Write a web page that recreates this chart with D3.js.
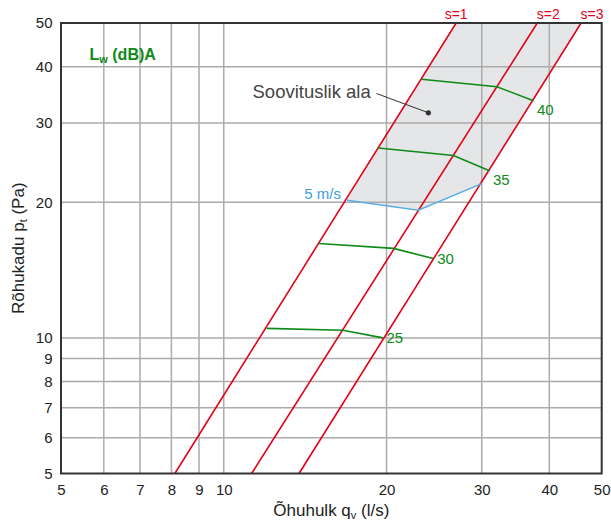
<!DOCTYPE html>
<html>
<head>
<meta charset="utf-8">
<script src="https://cdn.jsdelivr.net/npm/d3@7"></script>
<style>
  html, body { margin: 0; padding: 0; background: #fff; }
  svg { display: block; font-family: "Liberation Sans", Arial, Helvetica, sans-serif; }
</style>
</head>
<body>
<div id="chart"></div>
<script>
// ---- data ----
const xTicks = [5, 6, 7, 8, 9, 10, 20, 30, 40, 50];
const yTicks = [5, 6, 7, 8, 9, 10, 20, 30, 40, 50];

// system lines s=1..3: airflow at p=5 Pa and at p=50 Pa
const sLabels = ["s=1", "s=2", "s=3"];
const sQatP5  = [8.12, 11.26, 13.78];
const sQatP50 = [26.9, 38.0, 45.8];

// sound power lines Lw (dB)A
const lwLabels = ["25", "30", "35", "40"];
const lwQ = [
  [12.0, 16.6, 19.7],
  [15.0, 20.6, 24.4],
  [19.3, 26.6, 31.0],
  [23.2, 32.0, 37.4]
];
const lwP = [
  [10.5, 10.4, 10.0],
  [16.2, 15.8, 15.0],
  [26.4, 25.4, 23.5],
  [37.5, 36.1, 33.6]
];

// 5 m/s velocity line
const velLabel = "5 m/s";
const velQ = [16.9, 22.9, 30.0];
const velP = [20.2, 19.2, 22.0];

// recommended area label and marker
const areaLabel = "Soovituslik ala";
const areaMarkQ = 23.9;
const areaMarkP = 31.6;

// ---- layout ----
const W = 611, H = 523;
const L = 61, R = 601.7, T = 23, B = 473.5;

const x = d3.scaleLog().domain([5, 50]).range([L, R]);
const y = d3.scaleLog().domain([5, 50]).range([B, T]);

const svg = d3.select("#chart").append("svg")
  .attr("width", W).attr("height", H);

svg.append("defs").append("clipPath").attr("id", "plotclip")
  .append("rect").attr("x", L).attr("y", T).attr("width", R - L).attr("height", B - T);

const plot = svg.append("g").attr("clip-path", "url(#plotclip)");

// shaded recommended area
const areaPts = velQ.map((q, i) => [q, velP[i]])
  .concat([[sQatP50[2], 50], [sQatP50[0], 50]]);
plot.append("path")
  .attr("d", d3.line().x(d => x(d[0])).y(d => y(d[1]))(areaPts) + "Z")
  .attr("fill", "#e5e6e8");

// grid
const gridX = xTicks.filter(v => v > 5 && v < 50);
const gridY = yTicks.filter(v => v > 5 && v < 50);
plot.selectAll(".gx").data(gridX).enter().append("line")
  .attr("x1", d => x(d)).attr("x2", d => x(d)).attr("y1", T).attr("y2", B)
  .attr("stroke", "#ababab").attr("stroke-width", 1.5);
plot.selectAll(".gy").data(gridY).enter().append("line")
  .attr("y1", d => y(d)).attr("y2", d => y(d)).attr("x1", L).attr("x2", R)
  .attr("stroke", "#ababab").attr("stroke-width", 1.5);

// system lines
plot.selectAll(".sl").data(sLabels).enter().append("line")
  .attr("x1", (d, i) => x(sQatP5[i])).attr("y1", y(5))
  .attr("x2", (d, i) => x(sQatP50[i])).attr("y2", y(50))
  .attr("stroke", "#e2001a").attr("stroke-width", 1.6);

const line = d3.line().x(d => x(d[0])).y(d => y(d[1]));

// velocity line
plot.append("path")
  .attr("d", line(velQ.map((q, i) => [q, velP[i]])))
  .attr("fill", "none").attr("stroke", "#5aaee6").attr("stroke-width", 1.6);

// Lw lines
lwLabels.forEach((lab, k) => {
  plot.append("path")
    .attr("d", line(lwQ[k].map((q, i) => [q, lwP[k][i]])))
    .attr("fill", "none").attr("stroke", "#0e8a16").attr("stroke-width", 1.6);
});

// frame
svg.append("rect").attr("x", L).attr("y", T).attr("width", R - L).attr("height", B - T)
  .attr("fill", "none").attr("stroke", "#333").attr("stroke-width", 2);

// axes
const xAxis = svg.append("g").attr("transform", `translate(0,${B})`)
  .call(d3.axisBottom(x).tickValues(xTicks).tickFormat(d3.format("d")).tickSize(0).tickPadding(11));
const yAxis = svg.append("g").attr("transform", `translate(${L},0)`)
  .call(d3.axisLeft(y).tickValues(yTicks).tickFormat(d3.format("d")).tickSize(0).tickPadding(8.5));
[xAxis, yAxis].forEach(a => {
  a.select(".domain").remove();
  a.selectAll("text").attr("font-size", 15).attr("fill", "#222")
    .attr("font-family", "Liberation Sans, Arial, sans-serif");
});

// axis titles
const xt = svg.append("text").attr("x", (L + R) / 2).attr("y", 515.5)
  .attr("text-anchor", "middle").attr("font-size", 17).attr("fill", "#222");
xt.append("tspan").text("Õhuhulk q");
xt.append("tspan").attr("font-size", 11).attr("dy", 3).text("v");
xt.append("tspan").attr("dy", -3).text(" (l/s)");

const yt = svg.append("text")
  .attr("transform", `translate(24,${(T + B) / 2}) rotate(-90)`)
  .attr("text-anchor", "middle").attr("font-size", 17).attr("fill", "#222");
yt.append("tspan").text("Rõhukadu p");
yt.append("tspan").attr("font-size", 11).attr("dy", 3).text("t");
yt.append("tspan").attr("dy", -3).text(" (Pa)");

// s labels
const sAnchor = ["middle", "start", "start"];
svg.selectAll(".slab").data(sLabels).enter().append("text")
  .attr("x", (d, i) => x(sQatP50[i]) + (i === 0 ? 0 : -0.5))
  .attr("y", 18.5)
  .attr("text-anchor", (d, i) => sAnchor[i])
  .attr("font-size", 14).attr("fill", "#e2001a")
  .text(d => d);

// Lw labels
const lwDx = [3.5, 4, 3.5, 3.5];
const lwDy = [5, 5.5, 14, 14];
lwLabels.forEach((lab, k) => {
  const n = lwQ[k].length - 1;
  svg.append("text")
    .attr("x", x(lwQ[k][n]) + lwDx[k])
    .attr("y", y(lwP[k][n]) + lwDy[k])
    .attr("font-size", 15).attr("fill", "#0e8a16")
    .text(lab);
});

// velocity label
svg.append("text")
  .attr("x", x(velQ[0]) - 6).attr("y", y(velP[0]) - 1)
  .attr("text-anchor", "end").attr("font-size", 15).attr("fill", "#3a9de0")
  .text(velLabel);

// Lw title
const lw = svg.append("text").attr("x", 89.5).attr("y", 59.5)
  .attr("font-size", 16).attr("font-weight", "bold").attr("fill", "#0e8a16");
lw.append("tspan").text("L");
lw.append("tspan").attr("font-size", 11).attr("dy", 3).text("w");
lw.append("tspan").attr("dy", -3).text(" (dB)A");

// recommended area label with pointer
svg.append("text").attr("x", 252.5).attr("y", 97.5)
  .attr("font-size", 18.5).attr("fill", "#444").text(areaLabel);
svg.append("line")
  .attr("x1", 376.5).attr("y1", 93.5)
  .attr("x2", x(areaMarkQ)).attr("y2", y(areaMarkP))
  .attr("stroke", "#333").attr("stroke-width", 1);
svg.append("circle").attr("cx", x(areaMarkQ)).attr("cy", y(areaMarkP))
  .attr("r", 2.6).attr("fill", "#333");
</script>
</body>
</html>
